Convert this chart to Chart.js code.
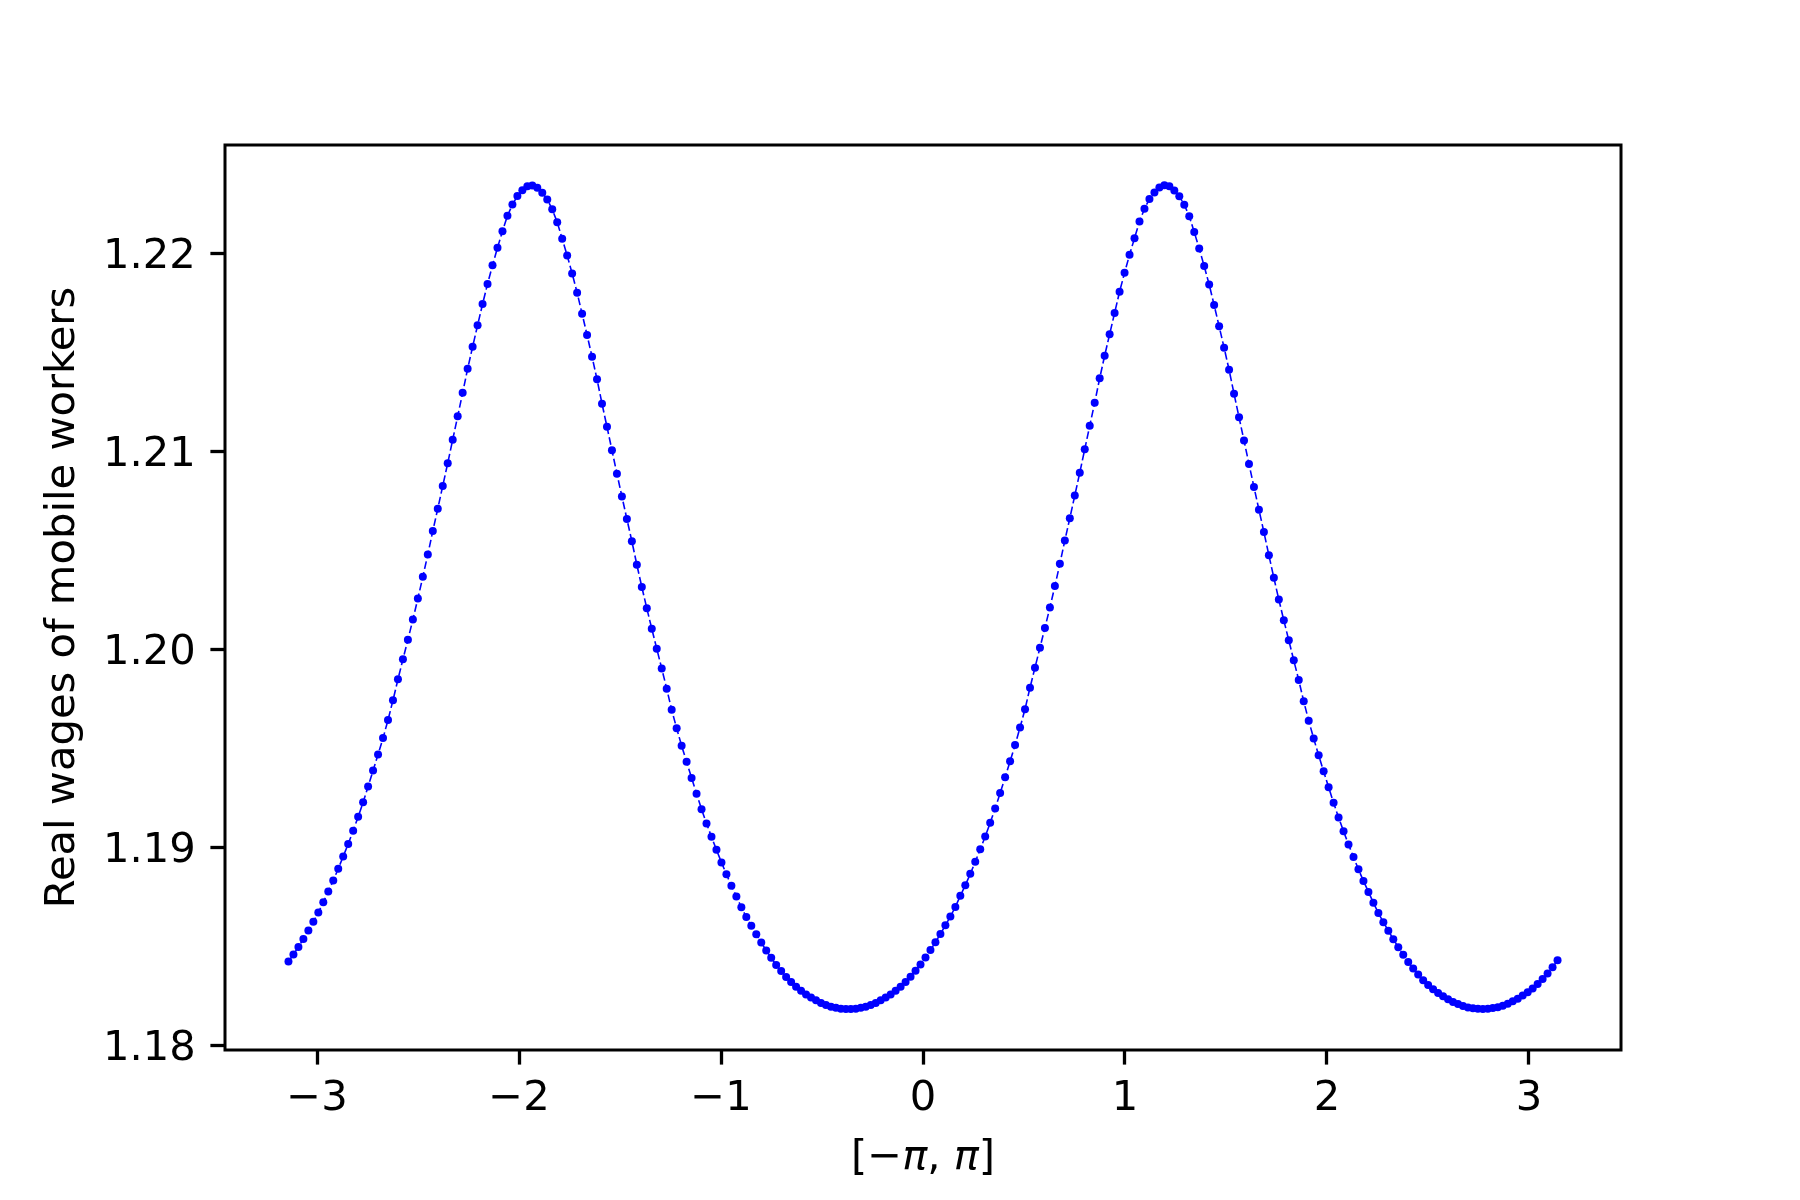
<!DOCTYPE html>
<html><head><meta charset="utf-8">
<script src="https://cdn.jsdelivr.net/npm/chart.js@4.4.1/dist/chart.umd.min.js"></script>
<style>html,body{margin:0;padding:0;background:#fff}#c{display:block}</style>
</head><body>
<canvas id="c" width="1800" height="1200"></canvas>
<script>
// Real wages of mobile workers (256 samples over [-pi, pi])
const wages = [
1.18422,1.18458,1.18496,1.18536,1.18579,1.18623,1.18670,1.18721,1.18776,1.18831,
1.18891,1.18953,1.19016,1.19083,1.19153,1.19227,1.19306,1.19387,1.19468,1.19551,
1.19642,1.19742,1.19848,1.19949,1.20048,1.20150,1.20256,1.20366,1.20479,1.20597,
1.20710,1.20825,1.20940,1.21059,1.21177,1.21296,1.21417,1.21528,1.21637,1.21744,
1.21846,1.21940,1.22029,1.22112,1.22190,1.22247,1.22290,1.22319,1.22339,
1.22343,1.22332,1.22307,1.22273,1.22223,1.22158,1.22074,1.21990,1.21899,1.21802,
1.21695,1.21588,1.21478,1.21364,1.21241,1.21124,1.21006,1.20887,1.20772,1.20658,
1.20546,1.20427,1.20315,1.20207,1.20104,1.20003,1.19903,1.19801,1.19694,1.19601,
1.19512,1.19431,1.19350,1.19270,1.19192,1.19120,1.19052,1.18987,1.18923,1.18863,
1.18805,1.18751,1.18696,1.18647,1.18603,1.18560,1.18518,1.18478,1.18441,1.18405,
1.18374,1.18344,1.18318,1.18294,1.18274,1.18256,1.18240,1.18226,1.18213,1.18203,
1.18194,1.18188,1.18184,1.18182,
1.18182,1.18184,1.18189,1.18194,1.18203,1.18213,1.18226,1.18240,1.18256,1.18274,
1.18295,1.18319,1.18345,1.18375,1.18407,1.18443,1.18480,1.18520,1.18561,1.18605,
1.18649,1.18698,1.18754,1.18807,1.18865,1.18926,1.18989,1.19054,1.19123,1.19195,
1.19273,1.19353,1.19434,1.19516,1.19605,1.19697,1.19806,1.19907,1.20008,1.20108,
1.20211,1.20319,1.20432,1.20550,1.20662,1.20777,1.20892,1.21011,1.21129,1.21246,
1.21369,1.21483,1.21592,1.21699,1.21807,1.21902,1.21993,1.22077,1.22161,1.22226,
1.22275,1.22308,1.22333,1.22344,
1.22339,1.22318,1.22289,1.22246,1.22188,1.22108,1.22025,1.21936,1.21843,1.21739,
1.21632,1.21524,1.21412,1.21291,1.21172,1.21055,1.20936,1.20820,1.20705,1.20592,
1.20475,1.20361,1.20251,1.20146,1.20045,1.19944,1.19844,1.19737,1.19639,1.19549,
1.19464,1.19383,1.19303,1.19224,1.19150,1.19080,1.19014,1.18950,1.18888,1.18829,
1.18774,1.18719,1.18667,1.18621,1.18578,1.18535,1.18494,1.18456,1.18420,1.18387,
1.18356,1.18328,1.18304,1.18282,1.18263,1.18246,1.18231,1.18218,1.18207,1.18197,
1.18190,1.18186,1.18183,
1.18182,1.18183,1.18187,1.18191,1.18199,1.18209,1.18221,1.18234,1.18250,1.18267,
1.18286,1.18309,1.18334,1.18362,1.18393,1.18428
];
// sample grid: evenly spaced over [-pi, pi]
const xStart = -Math.PI;
const xEnd = Math.PI;
const xTicks = [-3, -2, -1, 0, 1, 2, 3];
const yTicks = [1.18, 1.19, 1.20, 1.21, 1.22];
const xAxisRange = [-3.4558, 3.4558];
const yAxisRange = [1.17975, 1.22548];
const yLabel = 'Real wages of mobile workers';
const xLabelParts = [['[\u2212', false], ['\u03c0', true], [', ', false], ['\u03c0', true], [']', false]];

const FONT = '"DejaVu Sans", sans-serif';
const FS = 41.67;

const points = wages.map((w, i) => ({ x: xStart + i * (xEnd - xStart) / (wages.length - 1), y: w }));

const decor = {
  id: 'decor',
  afterDraw(chart) {
    const { ctx, chartArea: a } = chart;
    ctx.save();
    ctx.strokeStyle = '#000';
    ctx.lineWidth = 3;
    ctx.strokeRect(a.left, a.top, a.right - a.left, a.bottom - a.top);
    ctx.fillStyle = '#000';
    // x label with italic pi
    ctx.textBaseline = 'alphabetic';
    ctx.textAlign = 'left';
    const widths = xLabelParts.map(([t, it]) => { ctx.font = (it ? 'italic ' : '') + FS + 'px ' + FONT; return ctx.measureText(t).width; });
    const total = widths.reduce((s, w) => s + w, 0);
    let x = (a.left + a.right) / 2 - total / 2;
    xLabelParts.forEach(([t, it], k) => {
      ctx.font = (it ? 'italic ' : '') + FS + 'px ' + FONT;
      ctx.fillText(t, x, 1169);
      x += widths[k];
    });
    // y label
    ctx.translate(63, (a.top + a.bottom) / 2);
    ctx.rotate(-Math.PI / 2);
    ctx.textAlign = 'center';
    ctx.textBaseline = 'middle';
    ctx.font = FS + 'px ' + FONT;
    ctx.fillText(yLabel, 0, 0);
    ctx.restore();
  }
};

const tickFont = { family: FONT, size: FS };
const fmtX = v => (v < 0 ? '\u2212' + Math.abs(v) : String(v));

new Chart(document.getElementById('c'), {
  type: 'line',
  data: {
    datasets: [{
      data: points,
      borderColor: '#0000ff',
      borderWidth: 1.6,
      borderDash: [7.7, 3.3],
      pointRadius: 4,
      pointBorderWidth: 0,
      pointBackgroundColor: '#0000ff',
      pointStyle: 'circle',
      tension: 0,
      fill: false
    }]
  },
  options: {
    responsive: false,
    animation: false,
    devicePixelRatio: 1,
    layout: { padding: { left: 0, right: 179, top: 145, bottom: 0 } },
    plugins: { legend: { display: false }, tooltip: { enabled: false } },
    scales: {
      x: {
        type: 'linear',
        min: xAxisRange[0], max: xAxisRange[1],
        afterFit(s) { s.height = 150; },
        afterBuildTicks(s) { s.ticks = xTicks.map(v => ({ value: v })); },
        grid: { drawOnChartArea: false, drawTicks: true, tickLength: 14.6, tickWidth: 3.3, tickColor: '#000' },
        border: { display: false },
        ticks: { padding: 9.5, color: '#000', font: tickFont, callback: fmtX, maxRotation: 0, autoSkip: false }
      },
      y: {
        type: 'linear',
        min: yAxisRange[0], max: yAxisRange[1],
        afterFit(s) { s.width = 225; },
        afterBuildTicks(s) { s.ticks = yTicks.map(v => ({ value: v })); },
        grid: { drawOnChartArea: false, drawTicks: true, tickLength: 14.6, tickWidth: 3.3, tickColor: '#000' },
        border: { display: false },
        ticks: { padding: 14.6, labelOffset: 4, color: '#000', font: tickFont, callback: v => v.toFixed(2), autoSkip: false }
      }
    }
  },
  plugins: [decor]
});
</script>
</body></html>
